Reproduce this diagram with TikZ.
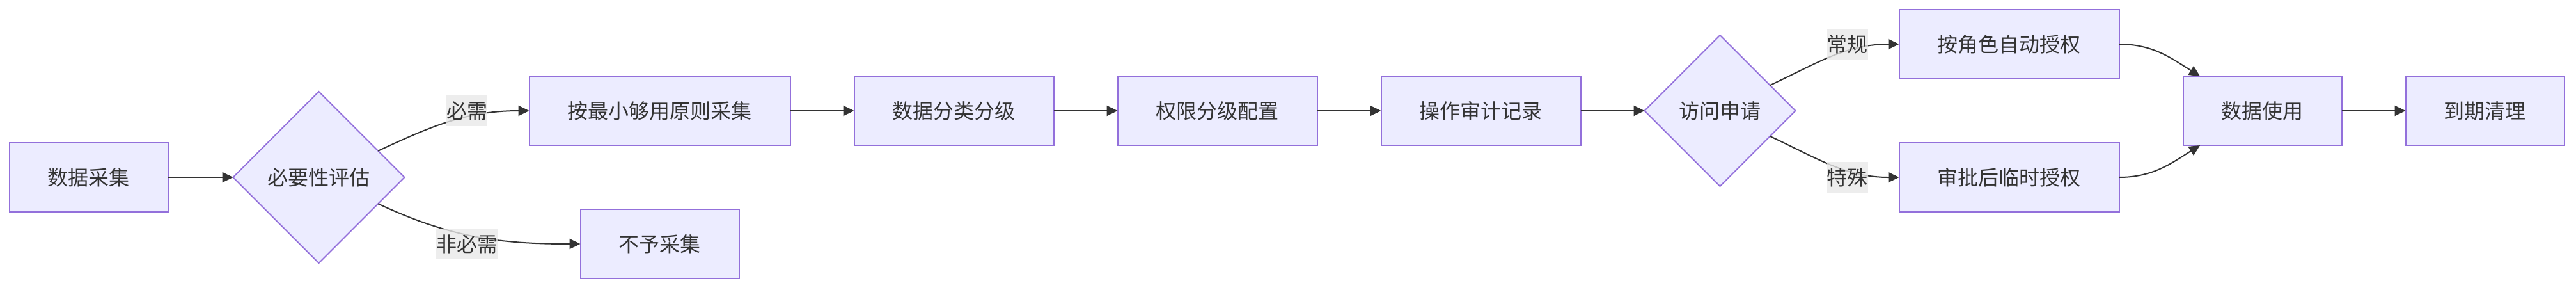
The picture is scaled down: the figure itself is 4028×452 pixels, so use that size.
\documentclass[tikz,border=0pt]{standalone}
\usepackage{fontspec}
\usepackage{tikz}
\usetikzlibrary{arrows.meta,positioning,calc,shapes.geometric}
\newfontfamily\cjkfont{Noto Sans CJK SC}
\definecolor{mmdInk}{HTML}{333333}
\definecolor{mmdFill}{HTML}{ECECFF}
\definecolor{mmdStroke}{HTML}{9370DB}
\definecolor{mmdLabel}{HTML}{E8E8E8}
\tikzset{
    >=Latex,
    procbox/.style={draw=mmdStroke, line width=1pt, fill=mmdFill, text=mmdInk, align=center, inner xsep=30pt, inner ysep=0pt, outer sep=0pt, minimum height=54pt},
    decision/.style={diamond, aspect=1, draw=mmdStroke, line width=1pt, fill=mmdFill, text=mmdInk, inner sep=0pt, outer sep=0pt},
    elabel/.style={fill=mmdLabel, fill opacity=0.8, text opacity=1, text=mmdInk, inner sep=0pt, minimum height=24pt},
    flow/.style={-{Triangle[length=8.5pt,width=8pt]}, line width=1pt, draw=mmdInk}
}

\begin{document}
\begin{tikzpicture}[x=0.5pt, y=0.5pt, font=\cjkfont\fontsize{16pt}{20pt}\selectfont, node distance=50pt]
\useasboundingbox (0,0) rectangle (4028,-452);
\node[procbox] (collect) at (138.5,-277) {数据采集};
\node[decision, minimum size=134pt, right=51pt of collect] (assess) {必要性评估};
\node[procbox, right=97.5pt of assess, yshift=52pt] (minimal) {按最小够用原则采集};
\node[procbox, below=of minimal] (reject) {不予采集};
\node[procbox, right=of minimal] (classify) {数据分类分级};
\node[procbox, right=of classify] (perm) {权限分级配置};
\node[procbox, right=of perm] (audit) {操作审计记录};
\node[decision, minimum size=118pt, right=of audit] (access) {访问申请};
\node[procbox, right=81pt of access, yshift=52pt] (autogrant) {按角色自动授权};
\node[procbox, right=81pt of access, yshift=-52pt] (tempgrant) {审批后临时授权};
\node[procbox, right=of autogrant, yshift=-52pt] (usage) {数据使用};
\node[procbox, right=of usage] (cleanup) {到期清理};
\draw[flow] (collect)--(assess);
\draw[flow] (assess.24) to[out=25,in=180] (minimal.west);
\draw[flow] (assess.-24) to[out=-25,in=180] (reject.west);
\draw[flow] (minimal)--(classify); \draw[flow] (classify)--(perm); \draw[flow] (perm)--(audit); \draw[flow] (audit)--(access);
\draw[flow] (access.27) to[out=25,in=180] (autogrant.west);
\draw[flow] (access.-27) to[out=-25,in=180] (tempgrant.west);
\draw[flow] (autogrant.east) to[out=0,in=148] (usage.151);
\draw[flow] (tempgrant.east) to[out=0,in=-148] (usage.-151);
\draw[flow] (usage)--(cleanup);
% edge labels on top
\node[elabel] (need) at ($(assess.east |- minimal.west)!0.5!(minimal.west)$) {必需};
\node[elabel] (noneed) at ($(assess.east |- reject.west)!0.5!(minimal.west |- reject.west)$) {非必需};
\node[elabel] (routine) at ($(access.east |- autogrant.west)!0.5!(autogrant.west)$) {常规};
\node[elabel] (special) at ($(access.east |- tempgrant.west)!0.5!(tempgrant.west)$) {特殊};
\end{tikzpicture}
\end{document}
